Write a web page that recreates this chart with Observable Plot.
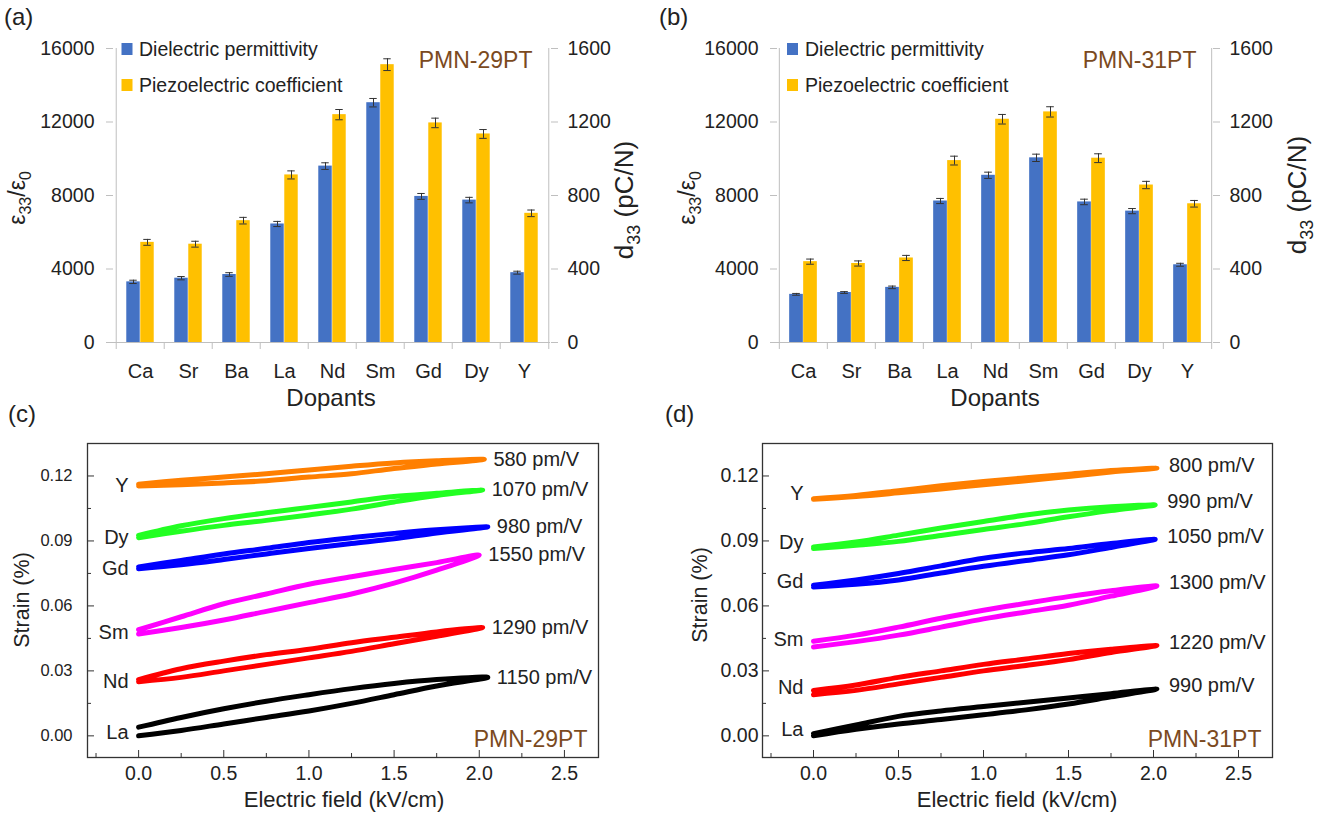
<!DOCTYPE html>
<html><head><meta charset="utf-8">
<script src="https://cdn.jsdelivr.net/npm/d3@7"></script>
<script src="https://cdn.jsdelivr.net/npm/@observablehq/plot@0.6"></script>
<style>
body{margin:0;background:#fff;}
#root{position:relative;width:1330px;height:817px;overflow:hidden;background:#fff;font-family:"Liberation Sans",Arial,sans-serif;}
</style></head><body><div id="root"></div>
<script>
// ---------- data ----------
const dopants = ["Ca","Sr","Ba","La","Nd","Sm","Gd","Dy","Y"];
// PMN-29PT
const eps29    = [3300, 3500, 3700, 6450, 9600, 13050, 7950, 7750, 3800];
const epsErr29 = [90, 90, 100, 140, 180, 230, 160, 150, 80];
const d33_29    = [545, 535, 663, 912, 1240, 1512, 1195, 1135, 703];
const d33Err29  = [16, 16, 18, 22, 28, 32, 26, 24, 18];
// PMN-31PT
const eps31    = [2620, 2720, 3000, 7700, 9100, 10050, 7650, 7150, 4230];
const epsErr31 = [50, 50, 70, 140, 170, 200, 150, 140, 80];
const d33_31    = [440, 430, 460, 990, 1215, 1255, 1003, 857, 755];
const d33Err31  = [14, 14, 14, 24, 26, 28, 24, 20, 18];

const yTicksBar = [0, 4000, 8000, 12000, 16000];

// strain loops
const loopDopants = ["Y", "Dy", "Gd", "Sm", "Nd", "La"];
const loopColors  = ["#FF7F00", "#22FF22", "#0000FF", "#FF00FF", "#FF0000", "#000000"];
const fields = [0, 0.25, 0.5, 0.75, 1.0, 1.25, 1.5, 1.75];

const slopes29 = ["580 pm/V", "1070 pm/V", "980 pm/V", "1550 pm/V", "1290 pm/V", "1150 pm/V"];
const fieldMax29 = [2.03, 2.02, 2.05, 2.0, 2.02, 2.05];
const strainMax29 = [0.1277, 0.1135, 0.0965, 0.0835, 0.050, 0.027];
const up29 = [
  [0.1154, 0.116, 0.1168, 0.1178, 0.1195, 0.121, 0.1235, 0.1255],
  [0.0915, 0.0945, 0.0972, 0.0995, 0.102, 0.1047, 0.108, 0.111],
  [0.0772, 0.079, 0.0814, 0.084, 0.0865, 0.0888, 0.091, 0.0937],
  [0.047, 0.050, 0.0535, 0.0575, 0.0615, 0.0655, 0.0705, 0.0765],
  [0.025, 0.027, 0.030, 0.033, 0.036, 0.039, 0.0425, 0.046],
  [0.000, 0.0025, 0.0055, 0.0085, 0.0115, 0.015, 0.019, 0.023]
];
const down29 = [
  [0.1162, 0.118, 0.1195, 0.121, 0.1228, 0.1245, 0.126, 0.127],
  [0.0925, 0.097, 0.1003, 0.103, 0.1055, 0.108, 0.1105, 0.112],
  [0.0780, 0.081, 0.084, 0.0866, 0.0893, 0.0915, 0.0935, 0.0952],
  [0.049, 0.055, 0.061, 0.0655, 0.070, 0.0735, 0.0768, 0.080],
  [0.026, 0.031, 0.0345, 0.0375, 0.040, 0.043, 0.0455, 0.048],
  [0.004, 0.0085, 0.0125, 0.016, 0.019, 0.0218, 0.0242, 0.026]
];

const slopes31 = ["800 pm/V", "990 pm/V", "1050 pm/V", "1300 pm/V", "1220 pm/V", "990 pm/V"];
const fieldMax31 = [2.02, 2.01, 2.01, 2.02, 2.02, 2.02];
const strainMax31 = [0.1236, 0.1066, 0.0907, 0.0692, 0.0417, 0.0216];
const up31 = [
  [0.1092, 0.1105, 0.1122, 0.1140, 0.116, 0.1178, 0.1198, 0.1218],
  [0.0865, 0.088, 0.0898, 0.0925, 0.0953, 0.098, 0.1012, 0.104],
  [0.0687, 0.070, 0.072, 0.0752, 0.0783, 0.081, 0.0836, 0.087],
  [0.041, 0.0435, 0.0465, 0.0502, 0.054, 0.0572, 0.0603, 0.0645],
  [0.019, 0.021, 0.024, 0.027, 0.030, 0.0325, 0.0352, 0.0385],
  [0.000, 0.003, 0.0055, 0.0075, 0.0097, 0.012, 0.0147, 0.018]
];
const down31 = [
  [0.1095, 0.111, 0.1132, 0.1155, 0.1175, 0.1192, 0.1208, 0.1225],
  [0.0872, 0.0895, 0.0927, 0.096, 0.099, 0.102, 0.1043, 0.1058],
  [0.0695, 0.072, 0.075, 0.0785, 0.082, 0.0845, 0.0865, 0.0888],
  [0.0437, 0.0465, 0.0502, 0.0543, 0.058, 0.0612, 0.0643, 0.067],
  [0.021, 0.0235, 0.027, 0.030, 0.033, 0.0355, 0.038, 0.040],
  [0.001, 0.005, 0.009, 0.0115, 0.0135, 0.0155, 0.0175, 0.0195]
];
const xMajor = [0, 0.5, 1.0, 1.5, 2.0, 2.5];
const xMinor = [-0.25, 0.25, 0.75, 1.25, 1.75, 2.25];
const yMajor = [0, 0.03, 0.06, 0.09, 0.12];
const yMinor = [0.015, 0.045, 0.075, 0.105];

// ---------- styles ----------
const FONT = '"Liberation Sans", Arial, sans-serif';
const BLUE = "#4472C4", YELLOW = "#FFC000", AXG = "#BFBFBF", INK = "#222", BROWN = "#7B4A1E";

const root = document.getElementById("root");
function place(svg, left, top) {
  svg.style.position = "absolute";
  svg.style.left = left + "px";
  svg.style.top = top + "px";
  root.appendChild(svg);
}

function barPanel(eps, epsErr, d33, d33Err, sample, mL, mR, sampleDx) {
  const W = 665, H = 420, mT = 48, mB = 78, barW = 14;
  const bw = (W - mL - mR) / dopants.length;
  const ratio = 16000 / 1600;
  const rows = dopants.map((d, i) => ({d, e: eps[i], ee: epsErr[i], p: d33[i] * ratio, pe: d33Err[i] * ratio}));
  const capB = {insetLeft: bw / 2 - barW / 2 - 4, insetRight: bw / 2 + barW / 2 - 4, stroke: "#333", strokeWidth: 1};
  const capY = {insetLeft: bw / 2 + barW / 2 - 4, insetRight: bw / 2 - barW / 2 - 4, stroke: "#333", strokeWidth: 1};
  return Plot.plot({
    width: W, height: H, marginLeft: mL, marginRight: mR, marginTop: mT, marginBottom: mB,
    style: {fontFamily: FONT, background: "transparent", overflow: "visible", color: INK},
    x: {type: "band", domain: dopants, padding: 0, axis: null},
    y: {domain: [0, 16000], axis: null},
    marks: [
      Plot.barY(rows, {x: "d", y: "e", fill: BLUE, insetLeft: bw / 2 - barW, insetRight: bw / 2}),
      Plot.barY(rows, {x: "d", y: "p", fill: YELLOW, insetLeft: bw / 2, insetRight: bw / 2 - barW}),
      Plot.ruleX(rows, {x: "d", y1: r => r.e - r.ee, y2: r => r.e + r.ee, dx: -barW / 2, stroke: "#333", strokeWidth: 1}),
      Plot.tickY(rows, {x: "d", y: r => r.e + r.ee, ...capB}),
      Plot.tickY(rows, {x: "d", y: r => r.e - r.ee, ...capB}),
      Plot.ruleX(rows, {x: "d", y1: r => r.p - r.pe, y2: r => r.p + r.pe, dx: barW / 2, stroke: "#333", strokeWidth: 1}),
      Plot.tickY(rows, {x: "d", y: r => r.p + r.pe, ...capY}),
      Plot.tickY(rows, {x: "d", y: r => r.p - r.pe, ...capY}),
      Plot.ruleY([0], {stroke: AXG}),
      Plot.ruleX([dopants[0]], {dx: -bw / 2, insetBottom: -7, stroke: AXG}),
      Plot.ruleX([dopants[dopants.length - 1]], {dx: bw / 2, insetBottom: -7, stroke: AXG}),
      Plot.ruleX(dopants.slice(1), {y1: 0, y2: 0, insetBottom: -7, dx: -bw / 2, stroke: AXG}),
      Plot.axisY({anchor: "left", ticks: yTicksBar, tickSize: 7, tickPadding: 12, tickFormat: d => String(d), stroke: AXG, fill: INK, fontSize: 19.5, label: null}),
      Plot.axisY({anchor: "right", ticks: yTicksBar, tickSize: 7, tickPadding: 10, tickFormat: d => String(d / ratio), stroke: AXG, fill: INK, fontSize: 19.5, label: null}),
      Plot.axisX({anchor: "bottom", tickSize: 0, tickPadding: 21, fill: INK, fontSize: 20, label: null}),
      Plot.text([sample], {text: d => d, frameAnchor: "top-right", textAnchor: "end", lineAnchor: "top", dx: sampleDx, dy: 3, fill: BROWN, fontSize: 23})
    ]
  });
}

function strainPanel(up, down, fmax, smax, slopes, sample, mL, mR, yTickFont, yPad, lblDy, rDx, rDy) {
  const W = 665, H = 397, mT = 23, mB = 60;
  const pts = [];
  loopDopants.forEach((d, i) => {
    fields.forEach((f, j) => pts.push({k: d, c: loopColors[i], f, s: up[i][j]}));
    pts.push({k: d, c: loopColors[i], f: fmax[i], s: smax[i]});
    for (let j = fields.length - 1; j >= 0; j--) pts.push({k: d, c: loopColors[i], f: fields[j], s: down[i][j]});
  });
  const rows = loopDopants.map((d, i) => ({d, s0: (up[i][0] + down[i][0]) / 2, fm: fmax[i], se: smax[i], slope: slopes[i]}));
  return Plot.plot({
    width: W, height: H, marginLeft: mL, marginRight: mR, marginTop: mT, marginBottom: mB,
    style: {fontFamily: FONT, background: "transparent", overflow: "visible", color: INK},
    x: {domain: [-0.3, 2.7], axis: null},
    y: {domain: [-0.01, 0.135], axis: null},
    marks: [
      Plot.line(pts, {x: "f", y: "s", z: "k", stroke: "c", strokeWidth: 5, curve: "catmull-rom", strokeLinecap: "round", strokeLinejoin: "round"}),
      Plot.frame({stroke: "#333", strokeWidth: 1.3}),
      Plot.axisY({anchor: "left", ticks: yMajor, tickSize: -7, tickPadding: 7 + yPad, tickFormat: d3.format(".2f"), stroke: "#333", fill: INK, fontSize: yTickFont, label: null}),
      Plot.axisY({anchor: "left", ticks: yMinor, tickSize: -4, tickFormat: () => "", stroke: "#333", label: null}),
      Plot.axisX({anchor: "bottom", ticks: xMajor, tickSize: -7, tickPadding: 16, tickFormat: d3.format(".1f"), stroke: "#333", fill: INK, fontSize: 19.5, label: null}),
      Plot.axisX({anchor: "bottom", ticks: xMinor, tickSize: -4, tickFormat: () => "", stroke: "#333", label: null}),
      Plot.text(rows, {x: () => 0, y: "s0", text: "d", textAnchor: "end", dx: -10, dy: lblDy, fontSize: 20, fill: INK}),
      Plot.text(rows, {x: "fm", y: "se", text: "slope", textAnchor: "start", dx: rDx, dy: rDy, fontSize: 20, fill: INK}),
      Plot.text([sample], {text: d => d, frameAnchor: "bottom-right", textAnchor: "end", lineAnchor: "bottom", dx: -11, dy: -11, fill: BROWN, fontSize: 23})
    ]
  });
}

place(barPanel(eps29, epsErr29, d33_29, d33Err29, "PMN-29PT", 113, 115, -18), 0, 0);
place(barPanel(eps31, epsErr31, d33_31, d33Err31, "PMN-31PT", 112, 118, -16), 665, 0);
place(strainPanel(up29, down29, fieldMax29, strainMax29, slopes29, "PMN-29PT", 87, 67, 16.5, 15, 1, 9, 0), 0, 420);
place(strainPanel(up31, down31, fieldMax31, strainMax31, slopes31, "PMN-31PT", 97, 58, 19.5, 4, -5, 12, -3), 665, 420);

// ---------- overlay text: panel letters, axis titles, legends ----------
const ov = d3.create("svg").attr("width", 1330).attr("height", 817)
  .style("position", "absolute").style("left", "0px").style("top", "0px")
  .style("font-family", FONT).style("pointer-events", "none");

function rich(x, y, parts, {size = 20, anchor = "start", rotate = 0, fill = INK} = {}) {
  const t = ov.append("text").attr("transform", `translate(${x},${y}) rotate(${rotate})`)
    .attr("text-anchor", anchor).attr("font-size", size).attr("fill", fill);
  const sub = Math.round(size * 0.7), shift = Math.round(size * 0.28);
  let down = false;
  for (const [s, isSub] of parts) {
    const ts = t.append("tspan").text(s);
    if (isSub && !down) { ts.attr("font-size", sub).attr("dy", shift); down = true; }
    else if (isSub) { ts.attr("font-size", sub); }
    else if (!isSub && down) { ts.attr("dy", -shift); down = false; }
  }
  return t;
}

rich(4, 25, [["(a)"]], {size: 24});
rich(659, 25, [["(b)"]], {size: 24});
rich(8, 422, [["(c)"]], {size: 24});
rich(665, 422, [["(d)"]], {size: 24});

const epsLabel = [["ε"], ["33", true], ["/ε"], ["0", true]];
const d33Label = [["d"], ["33", true], [" (pC/N)"]];
rich(25, 198, epsLabel, {size: 23, anchor: "middle", rotate: -90});
rich(695, 198, epsLabel, {size: 23, anchor: "middle", rotate: -90});
rich(633, 200, d33Label, {size: 26, anchor: "middle", rotate: -90});
rich(1306, 195, d33Label, {size: 26, anchor: "middle", rotate: -90});
rich(331, 406, [["Dopants"]], {size: 24, anchor: "middle"});
rich(995, 406, [["Dopants"]], {size: 24, anchor: "middle"});

rich(29, 600, [["Strain (%)"]], {size: 21.5, anchor: "middle", rotate: -90});
rich(707, 595, [["Strain (%)"]], {size: 21.5, anchor: "middle", rotate: -90});
rich(344, 807, [["Electric field (kV/cm)"]], {size: 22, anchor: "middle"});
rich(1017, 807, [["Electric field (kV/cm)"]], {size: 22, anchor: "middle"});

function legend(x0, tx) {
  ov.append("rect").attr("x", x0).attr("y", 43).attr("width", 11).attr("height", 12).attr("fill", BLUE);
  rich(tx, 55.5, [["Dielectric permittivity"]], {size: 19.5});
  ov.append("rect").attr("x", x0).attr("y", 79).attr("width", 11).attr("height", 12).attr("fill", YELLOW);
  rich(tx, 91.5, [["Piezoelectric coefficient"]], {size: 19.5});
}
legend(121.5, 139);
legend(787, 805);

root.appendChild(ov.node());
</script></body></html>
